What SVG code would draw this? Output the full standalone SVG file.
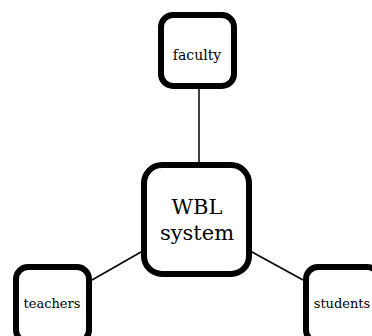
<svg xmlns="http://www.w3.org/2000/svg" width="372" height="336" viewBox="0 0 372 336">
<style>
.box{fill:#fff;stroke:#000;stroke-width:6}
.lbl{font-family:"DejaVu Serif","Liberation Serif",serif;fill:#000;text-anchor:middle}
.edge{stroke:#000;stroke-width:1.5;fill:none}
</style>
<rect width="372" height="336" fill="#fff"/>
<g id="connectors">
<line class="edge" x1="199" y1="89" x2="199" y2="162"/>
<line class="edge" x1="92" y1="280" x2="141" y2="252"/>
<line class="edge" x1="252" y1="252" x2="303" y2="280"/>
</g>
<g id="faculty">
<rect class="box" x="161" y="15" width="73" height="71" rx="12"/>
<text class="lbl" x="197" y="60" font-size="14">faculty</text>
</g>
<g id="wbl">
<rect class="box" x="144" y="165" width="105" height="109" rx="18"/>
<text class="lbl" x="197" y="214" font-size="21">WBL</text>
<text class="lbl" x="197" y="240" font-size="21">system</text>
</g>
<g id="teachers">
<rect class="box" x="16" y="267" width="73" height="75" rx="12"/>
<text class="lbl" x="52" y="308" font-size="13">teachers</text>
</g>
<g id="students">
<rect class="box" x="306" y="267" width="73" height="75" rx="12"/>
<text class="lbl" x="342" y="308" font-size="13">students</text>
</g>
</svg>
